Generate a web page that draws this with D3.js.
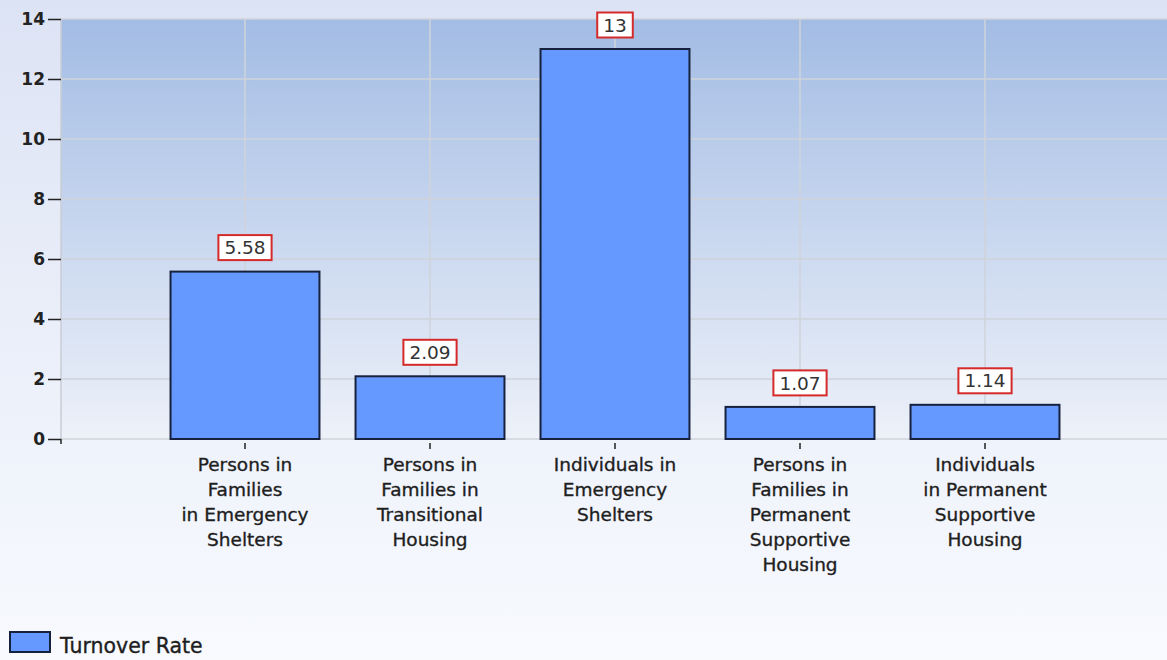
<!DOCTYPE html>
<html>
<head>
<meta charset="utf-8">
<script src="https://cdn.jsdelivr.net/npm/d3@7"></script>
<style>
  body { margin: 0; padding: 0; overflow: hidden; }
  svg { display: block; }
</style>
</head>
<body>
<svg id="chart"></svg>
<script>
// data
const categories = ["pfes", "pfth", "ies", "pfpsh", "ipsh"];
const categoryLines = [
  ["Persons in", "Families", "in Emergency", "Shelters"],
  ["Persons in", "Families in", "Transitional", "Housing"],
  ["Individuals in", "Emergency", "Shelters"],
  ["Persons in", "Families in", "Permanent", "Supportive", "Housing"],
  ["Individuals", "in Permanent", "Supportive", "Housing"]
];
const values = [5.58, 2.09, 13, 1.07, 1.14];
const valueLabels = ["5.58", "2.09", "13", "1.07", "1.14"];
const yTicks = [0, 2, 4, 6, 8, 10, 12, 14];
const seriesName = "Turnover Rate";

const width = 1167, height = 660;
const plot = {left: 61, right: 1167, top: 19, bottom: 439};
const font = "'DejaVu Sans', Verdana, sans-serif";

const svg = d3.select("#chart").attr("width", width).attr("height", height);

const defs = svg.append("defs");
const bgGrad = defs.append("linearGradient").attr("id", "bg").attr("x1", 0).attr("y1", 0).attr("x2", 0).attr("y2", 1);
bgGrad.append("stop").attr("offset", "0%").attr("stop-color", "#dce3f4");
bgGrad.append("stop").attr("offset", "100%").attr("stop-color", "#f8fafe");
const plotGrad = defs.append("linearGradient").attr("id", "plotbg").attr("x1", 0).attr("y1", 0).attr("x2", 0).attr("y2", 1);
plotGrad.append("stop").attr("offset", "0%").attr("stop-color", "#a3bce4");
plotGrad.append("stop").attr("offset", "100%").attr("stop-color", "#edf1f9");

svg.append("rect").attr("width", width).attr("height", height).attr("fill", "url(#bg)");

const x = d3.scaleBand()
  .domain(categories)
  .range([152.5, 1077.5])
  .paddingInner(0.195)
  .paddingOuter(0.0975);

const y = d3.scaleLinear().domain([0, 14]).range([plot.bottom, plot.top]);

// plot area
svg.append("rect")
  .attr("x", plot.left).attr("y", plot.top)
  .attr("width", plot.right - plot.left).attr("height", plot.bottom - plot.top)
  .attr("fill", "url(#plotbg)");

// grid
svg.append("g").selectAll("line.h")
  .data(yTicks)
  .join("line")
  .attr("x1", plot.left).attr("x2", plot.right)
  .attr("y1", d => y(d)).attr("y2", d => y(d))
  .attr("stroke", "#cfd3da").attr("stroke-width", 1.5);

svg.append("g").selectAll("line.v")
  .data(categories)
  .join("line")
  .attr("x1", d => x(d) + x.bandwidth() / 2).attr("x2", d => x(d) + x.bandwidth() / 2)
  .attr("y1", plot.top).attr("y2", plot.bottom)
  .attr("stroke", "#cfd3da").attr("stroke-width", 1.5);

svg.append("line")
  .attr("x1", plot.left).attr("x2", plot.left)
  .attr("y1", plot.top).attr("y2", plot.bottom)
  .attr("stroke", "#c8ccd4").attr("stroke-width", 1.5);

// y axis
const yAxis = d3.axisLeft(y).tickValues(yTicks).tickSize(13).tickPadding(3);
const yg = svg.append("g").attr("transform", `translate(${plot.left},0)`).call(yAxis);
yg.select(".domain").remove();
yg.selectAll(".tick line").attr("stroke", "#222").attr("stroke-width", 1.5);
yg.selectAll(".tick text")
  .attr("fill", "#222")
  .style("font-family", font)
  .style("font-size", "17px")
  .style("font-weight", "bold");
svg.append("line")
  .attr("x1", plot.left).attr("x2", plot.left)
  .attr("y1", plot.bottom).attr("y2", plot.bottom + 5)
  .attr("stroke", "#222").attr("stroke-width", 1.5);

// bars
svg.append("g").selectAll("rect")
  .data(values)
  .join("rect")
  .attr("x", (d, i) => x(categories[i]))
  .attr("y", d => y(d))
  .attr("width", x.bandwidth())
  .attr("height", d => y(0) - y(d))
  .attr("fill", "#6699ff")
  .attr("stroke", "#15213d")
  .attr("stroke-width", 2);

// value labels
const lab = svg.append("g").selectAll("g")
  .data(values)
  .join("g")
  .attr("transform", (d, i) => `translate(${x(categories[i]) + x.bandwidth() / 2},${y(d) - 24})`);
lab.append("text")
  .attr("text-anchor", "middle")
  .attr("dy", "0.36em")
  .attr("fill", "#333")
  .style("font-family", font)
  .style("font-size", "18.5px")
  .text((d, i) => valueLabels[i]);
lab.each(function () {
  const g = d3.select(this);
  const bb = g.select("text").node().getBBox();
  g.insert("rect", "text")
    .attr("x", bb.x - 6).attr("y", -12.5)
    .attr("width", bb.width + 12).attr("height", 25)
    .attr("fill", "#fff")
    .attr("stroke", "#d42a2a").attr("stroke-width", 2);
});

// x ticks and category labels
const xg = svg.append("g").selectAll("g")
  .data(categories)
  .join("g")
  .attr("transform", d => `translate(${x(d) + x.bandwidth() / 2},${plot.bottom})`);
xg.append("line").attr("y1", 4).attr("y2", 10).attr("stroke", "#222").attr("stroke-width", 1.5);
xg.append("text")
  .attr("text-anchor", "middle")
  .attr("fill", "#1e1e1e")
  .attr("stroke", "#1e1e1e").attr("stroke-width", 0.35)
  .style("font-family", font)
  .style("font-size", "18.5px")
  .selectAll("tspan")
  .data((d, i) => categoryLines[i])
  .join("tspan")
  .attr("x", 0)
  .attr("y", (d, j) => 32 + j * 25)
  .text(d => d);

// legend
svg.append("rect")
  .attr("x", 10).attr("y", 632).attr("width", 40).attr("height", 20)
  .attr("fill", "#6699ff").attr("stroke", "#15213d").attr("stroke-width", 2);
svg.append("text")
  .attr("x", 60).attr("y", 653)
  .attr("fill", "#1e1e1e")
  .attr("stroke", "#1e1e1e").attr("stroke-width", 0.35)
  .style("font-family", font)
  .style("font-size", "20.5px")
  .text(seriesName);
</script>
</body>
</html>
